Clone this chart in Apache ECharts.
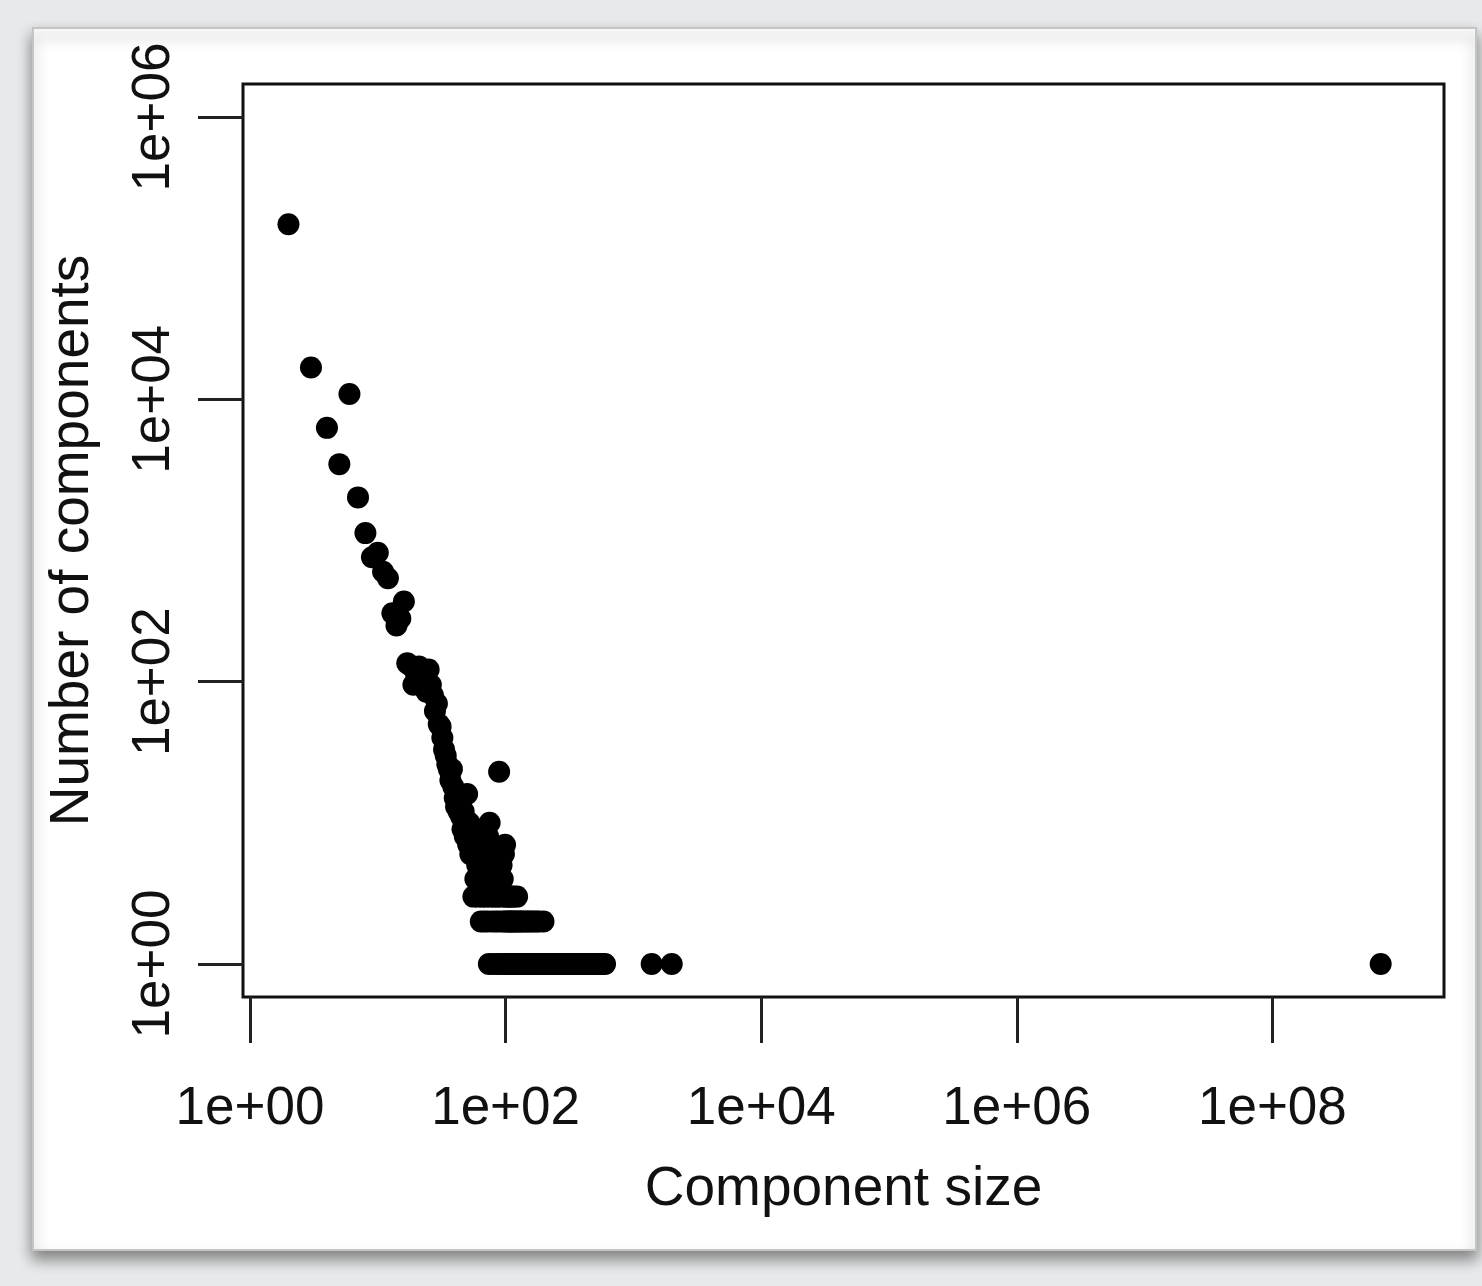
<!DOCTYPE html>
<html>
<head>
<meta charset="utf-8">
<script src="https://cdn.jsdelivr.net/npm/echarts@6/dist/echarts.min.js"></script>
<style>
html,body{margin:0;padding:0;background:#e8e9ea;}
#c{width:1482px;height:1286px;}
</style>
</head>
<body>
<div id="c"></div>
<script>
// Component size (x) and number of components of that size (y)
const sizes = [
  2,3,4,5,6,7,8,9,10,11,
  12,13,14,15,16,17,18,19,20,21,
  22,23,24,25,26,27,28,29,30,31,
  32,33,34,35,36,37,38,39,40,41,
  42,43,44,45,46,47,48,49,50,51,
  52,53,54,55,56,57,58,59,60,61,
  62,63,64,65,66,67,68,69,70,71,
  72,73,74,75,76,77,78,79,80,81,
  82,83,84,85,86,87,88,89,90,91,
  92,93,94,95,96,97,98,99,100,101,
  102,103,104,105,106,107,108,109,110,111,
  112,113,114,116,117,118,120,121,123,124,
  125,127,128,130,132,134,137,139,142,145,
  148,150,153,157,160,163,167,171,175,179,
  183,188,192,198,205,213,221,230,240,251,
  262,274,286,299,313,327,342,358,375,393,
  412,432,453,475,498,522,547,573,600,1390,
  1995,704000000
];
const counts = [
  174000,16800,6280,3475,10900,2020,1128,760,820,600,
  540,305,250,280,370,135,130,95,110,128,
  100,118,85,122,95,80,62,70,50,48,
  40,33,30,26,24,20,24,18,15,13,
  16,12,14,11,9,12,8,10,16,7,
  10,6,9,7,3,8,4,6,5,3,
  7,4,2,5,3,6,2,4,3,5,
  2,8,1,10,3,4,2,6,1,3,
  5,2,4,1,3,6,2,23,4,1,
  3,5,2,4,1,6,2,7,3,1,
  2,3,1,2,1,3,2,1,2,3,
  1,2,1,3,2,1,2,1,3,2,
  1,1,2,1,2,1,2,1,2,1,
  2,1,2,1,2,1,2,1,2,1,
  2,1,1,2,1,1,1,1,1,1,
  1,1,1,1,1,1,1,1,1,1,
  1,1,1,1,1,1,1,1,1,1,
  1,1
];
// tick positions (powers of ten, as exponents) and their labels
const xTickExp = [0, 2, 4, 6, 8];
const xTickLabels = ['1e+00', '1e+02', '1e+04', '1e+06', '1e+08'];
const yTickExp = [0, 2, 4, 6];
const yTickLabels = ['1e+00', '1e+02', '1e+04', '1e+06'];

const points = sizes.map((s, i) => [Math.log10(s), Math.log10(counts[i])]);

const FONT = '"Liberation Sans", Arial, Helvetica, sans-serif';
const chart = echarts.init(document.getElementById('c'), null, {renderer: 'canvas'});
chart.setOption({
  backgroundColor: '#e8e9ea',
  animation: false,
  graphic: [{
    type: 'rect',
    z: -10,
    shape: {x: 33, y: 28, width: 1443, height: 1222},
    style: {fill: '#ffffff', stroke: '#c4c4c4', lineWidth: 2,
            shadowBlur: 14, shadowOffsetY: 8, shadowColor: 'rgba(0,0,0,0.45)'}
  }],
  grid: {
    left: 243, top: 84, width: 1201, height: 913,
    show: true, borderColor: '#111', borderWidth: 3, backgroundColor: 'transparent'
  },
  xAxis: {
    type: 'value',
    min: -0.0548, max: 9.343,
    name: 'Component size',
    nameLocation: 'middle',
    nameGap: 165,
    nameTextStyle: {fontFamily: FONT, fontSize: 55, color: '#111'},
    axisLine: {show: false, onZero: false},
    splitLine: {show: false},
    axisTick: {show: true, inside: false, length: 46, customValues: xTickExp,
               lineStyle: {color: '#222', width: 3}},
    axisLabel: {show: true, customValues: xTickExp, margin: 86,
                fontFamily: FONT, fontSize: 53, color: '#111',
                formatter: v => xTickLabels[xTickExp.indexOf(Math.round(v))] || ''}
  },
  yAxis: {
    type: 'value',
    min: -0.234, max: 6.234,
    name: 'Number of components',
    nameLocation: 'middle',
    nameGap: 143,
    nameRotate: 90,
    nameTextStyle: {fontFamily: FONT, fontSize: 55, color: '#111'},
    axisLine: {show: false, onZero: false},
    splitLine: {show: false},
    axisTick: {show: true, inside: false, length: 45, customValues: yTickExp,
               lineStyle: {color: '#222', width: 3}},
    axisLabel: {show: true, customValues: yTickExp, margin: 62, rotate: 90,
                fontFamily: FONT, fontSize: 53, color: '#111',
                formatter: v => yTickLabels[yTickExp.indexOf(Math.round(v))] || ''}
  },
  series: [{
    type: 'scatter',
    data: points,
    symbol: 'circle',
    symbolSize: 22,
    itemStyle: {color: '#000', opacity: 1},
    emphasis: {disabled: true}
  }]
});
</script>
</body>
</html>
